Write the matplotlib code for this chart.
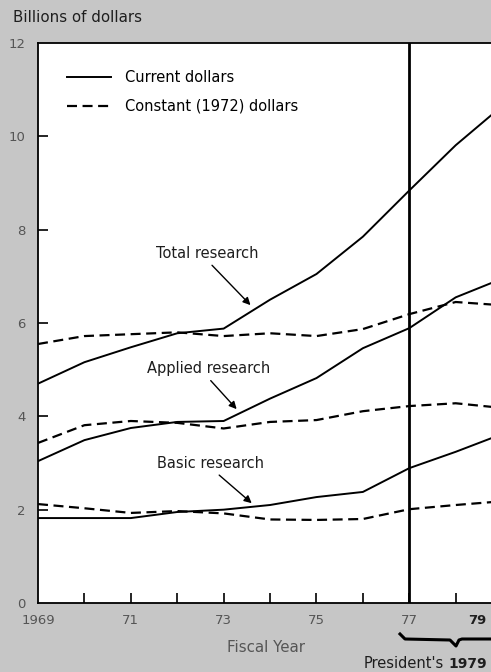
import matplotlib.pyplot as plt
from matplotlib.lines import Line2D

years = list(range(1969, 1980))

total_current = [4.70, 5.16, 5.48, 5.78, 5.88, 6.50, 7.05, 7.85, 8.84, 9.81, 10.65]
total_constant = [5.55, 5.72, 5.76, 5.80, 5.72, 5.78, 5.72, 5.87, 6.19, 6.45, 6.38]
applied_current = [3.04, 3.49, 3.75, 3.88, 3.90, 4.38, 4.82, 5.46, 5.89, 6.55, 6.95]
applied_constant = [3.43, 3.81, 3.90, 3.86, 3.74, 3.88, 3.92, 4.11, 4.22, 4.28, 4.18]
basic_current = [1.82, 1.82, 1.82, 1.95, 2.00, 2.10, 2.27, 2.38, 2.89, 3.24, 3.62]
basic_constant = [2.12, 2.03, 1.93, 1.97, 1.92, 1.79, 1.78, 1.80, 2.01, 2.10, 2.18]

tick_labels = {1969: "1969", 1971: "71", 1973: "73", 1975: "75", 1977: "77"}

GRAY_BG = "#c6c6c6"
TXT = "#1e1e1e"
NUM = "#555555"
plt.rcParams["font.family"] = ["DejaVu Sans"]

fig = plt.figure(figsize=(4.91, 6.72), dpi=100, facecolor=GRAY_BG)
ax = fig.add_axes([38 / 491, 1 - 603 / 672, 1 - 38 / 491, (603 - 43) / 672])
ax.set_facecolor("white")

solid = dict(color="black", lw=1.4, solid_joinstyle="miter")
dashed = dict(color="black", lw=1.6, dashes=(4.5, 2.5))

ax.plot(years, total_current, **solid)
ax.plot(years, total_constant, **dashed)
ax.plot(years, applied_current, **solid)
ax.plot(years, applied_constant, **dashed)
ax.plot(years, basic_current, **solid)
ax.plot(years, basic_constant, **dashed)

ax.axvline(1977, color="black", lw=2.0)

ax.set_xlim(1969, 1978.76)
ax.set_ylim(0, 12)

for s in ["left", "top", "bottom"]:
    ax.spines[s].set_linewidth(1.3)
ax.spines["right"].set_visible(False)

ax.set_xticks(years[:-1])
ax.set_xticklabels([tick_labels.get(y, "") for y in years[:-1]])
ax.set_yticks(range(0, 13, 2))
ax.tick_params(axis="both", direction="in", length=7, width=1.2,
               labelsize=9.5, labelcolor=NUM)
ax.tick_params(axis="y", pad=9)
ax.tick_params(axis="x", pad=8)
ax.yaxis.get_major_ticks()[-1].tick1line.set_visible(False)
ax.yaxis.get_major_ticks()[0].tick1line.set_visible(False)
ax.xaxis.get_major_ticks()[0].tick1line.set_visible(False)

# legend
handles = [Line2D([], [], **solid), Line2D([], [], **dashed)]
ax.legend(handles, ["Current dollars", "Constant (1972) dollars"],
          loc="upper left", bbox_to_anchor=(0.035, 0.975), frameon=False,
          fontsize=10.5, handlelength=3.0, labelspacing=0.95, handletextpad=1.0)

arrow = dict(arrowstyle="-|>", color="black", lw=1.0, mutation_scale=11)
ax.annotate("Total research", xy=(1973.62, 6.34), xytext=(1972.65, 7.5),
            fontsize=10.5, color=TXT, ha="center", va="center",
            arrowprops=dict(arrow, relpos=(0.5, 0.0)))
ax.annotate("Applied research", xy=(1973.32, 4.11), xytext=(1972.68, 5.03),
            fontsize=10.5, color=TXT, ha="center", va="center",
            arrowprops=dict(arrow, relpos=(0.48, 0.0)))
ax.annotate("Basic research", xy=(1973.65, 2.10), xytext=(1972.72, 3.0),
            fontsize=10.5, color=TXT, ha="center", va="center",
            arrowprops=dict(arrow, relpos=(0.53, 0.0)))

fig.text(13 / 491, 1 - 18 / 672, "Billions of dollars", fontsize=10.8,
         color=TXT, ha="left", va="center")
fig.text(266 / 491, 1 - 648 / 672, "Fiscal Year", fontsize=10.8,
         color=NUM, ha="center", va="center")
fig.text(477 / 491, 1 - 621 / 672, "79", fontsize=9.5, fontweight="bold",
         color=TXT, ha="center", va="center")
fig.text(444 / 491, 1 - 664 / 672, "President's", fontsize=10.5, color=TXT,
         ha="right", va="center")
fig.text(487 / 491, 1 - 664 / 672, "1979", fontsize=10, color=TXT,
         fontweight="bold", ha="right", va="center")

# brace below the 77-79 labels
bx = [400, 405, 450, 456, 459, 462, 491]
by = [634, 639, 640, 646, 640, 639, 639]
fig.add_artist(Line2D([x / 491 for x in bx], [1 - y / 672 for y in by],
                      color="black", lw=2.2, transform=fig.transFigure))

fig.savefig("out.png", dpi=100, facecolor=GRAY_BG)
